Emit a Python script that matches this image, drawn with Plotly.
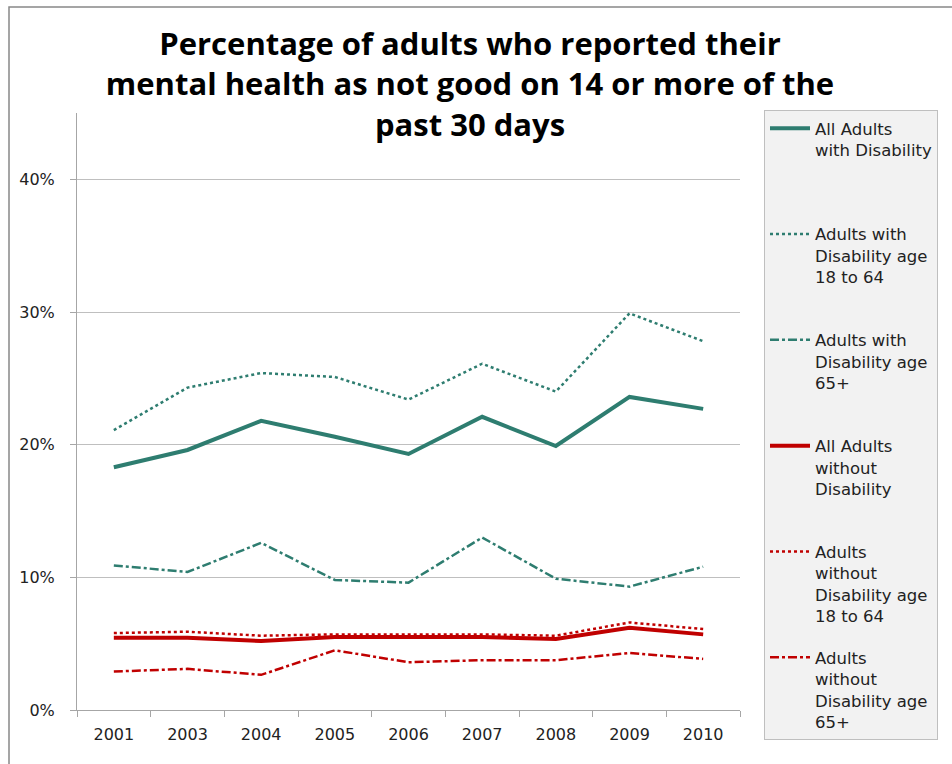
import plotly.graph_objects as go

years = ["2001", "2003", "2004", "2005", "2006", "2007", "2008", "2009", "2010"]

all_with_dis = [18.3, 19.6, 21.8, 20.6, 19.3, 22.1, 19.9, 23.6, 22.7]
with_dis_18_64 = [21.1, 24.3, 25.4, 25.1, 23.4, 26.1, 24.0, 29.9, 27.8]
with_dis_65 = [10.9, 10.4, 12.6, 9.8, 9.6, 13.0, 9.9, 9.3, 10.8]
all_without_dis = [5.45, 5.45, 5.2, 5.5, 5.5, 5.5, 5.35, 6.2, 5.7]
without_dis_18_64 = [5.8, 5.9, 5.6, 5.7, 5.7, 5.7, 5.6, 6.6, 6.1]
without_dis_65 = [2.9, 3.1, 2.65, 4.5, 3.6, 3.75, 3.75, 4.3, 3.85]

series_names = [
    "All Adults<br>with Disability",
    "Adults with<br>Disability age<br>18 to 64",
    "Adults with<br>Disability age<br>65+",
    "All Adults<br>without<br>Disability",
    "Adults<br>without<br>Disability age<br>18 to 64",
    "Adults<br>without<br>Disability age<br>65+",
]

TEAL = "#2E7D70"
RED = "#C00000"

series = [all_with_dis, with_dis_18_64, with_dis_65,
          all_without_dis, without_dis_18_64, without_dis_65]
styles = [
    (TEAL, 4, "solid"),
    (TEAL, 2.5, "dot"),
    (TEAL, 2.5, "dashdot"),
    (RED, 4, "solid"),
    (RED, 2.5, "dot"),
    (RED, 2.5, "dashdot"),
]

def pad(name, n=4):
    k = name.count("<br>") + 1
    return name + "<br>\u00a0" * (n - k)

fig = go.Figure()
for i, (vals, name, (col, w, dash)) in enumerate(zip(series, series_names, styles)):
    fig.add_trace(go.Scatter(
        x=years, y=[v / 100 for v in vals], mode="lines",
        name=pad(name), legendgroup=f"g{i}",
        line=dict(color=col, width=w, dash=dash),
    ))

W, H = 952, 764
L, R, T, B = 77, 212, 113, 54
pw, ph = W - L - R, H - T - B

fig.update_layout(
    width=W, height=H,
    margin=dict(l=L, r=R, t=T, b=B),
    paper_bgcolor="white", plot_bgcolor="white",
    title=dict(
        text="Percentage of adults who reported their<br>mental health as not good on 14 or more of the<br>past 30 days",
        x=470 / W, xanchor="center", xref="container",
        y=1 - 55 / H, yanchor="top", yref="container",
        font=dict(family="Open Sans", size=31, color="black", weight="bold"),
    ),
    font=dict(family="DejaVu Sans", size=16, color="#222222"),
    legend=dict(
        x=764 / W, xanchor="left", xref="container",
        y=1 - 110 / H, yanchor="top", yref="container",
        bgcolor="#F2F2F2", bordercolor="#BFBFBF", borderwidth=1,
        font=dict(family="DejaVu Sans", size=16.5, color="#222222"),
        valign="top", traceorder="grouped", tracegroupgap=17,
        itemwidth=40, maxheight=700,
    ),
    xaxis=dict(
        type="category", showgrid=False, showline=True, linecolor="#A6A6A6",
        ticks="outside", tickson="boundaries", ticklen=6, tickcolor="#A6A6A6",
        tickfont=dict(size=16, color="#222222"), range=[-0.5, 8.5],
        ticklabelstandoff=10,
    ),
    yaxis=dict(
        range=[0, 0.45], tickvals=[0, 0.1, 0.2, 0.3, 0.4], tickformat=".0%",
        showgrid=True, gridcolor="#BFBFBF", gridwidth=1,
        showline=True, linecolor="#A6A6A6", ticks="outside", ticklen=6,
        tickcolor="#A6A6A6", tickfont=dict(size=16, color="#222222"),
        zeroline=False, ticklabelstandoff=12,
    ),
    showlegend=True,
)

# outer chart border (top and left visible; image cropped at right/bottom)
fig.add_shape(type="rect", xref="paper", yref="paper",
              x0=(9 - L) / pw, x1=(W + 20 - L) / pw,
              y0=(H - B - (H + 20)) / ph, y1=(H - B - 7) / ph,
              line=dict(color="#888888", width=1.5), layer="below")

fig.write_html("out.html", config={"displayModeBar": False},
               post_script="document.body.style.margin='0';")
